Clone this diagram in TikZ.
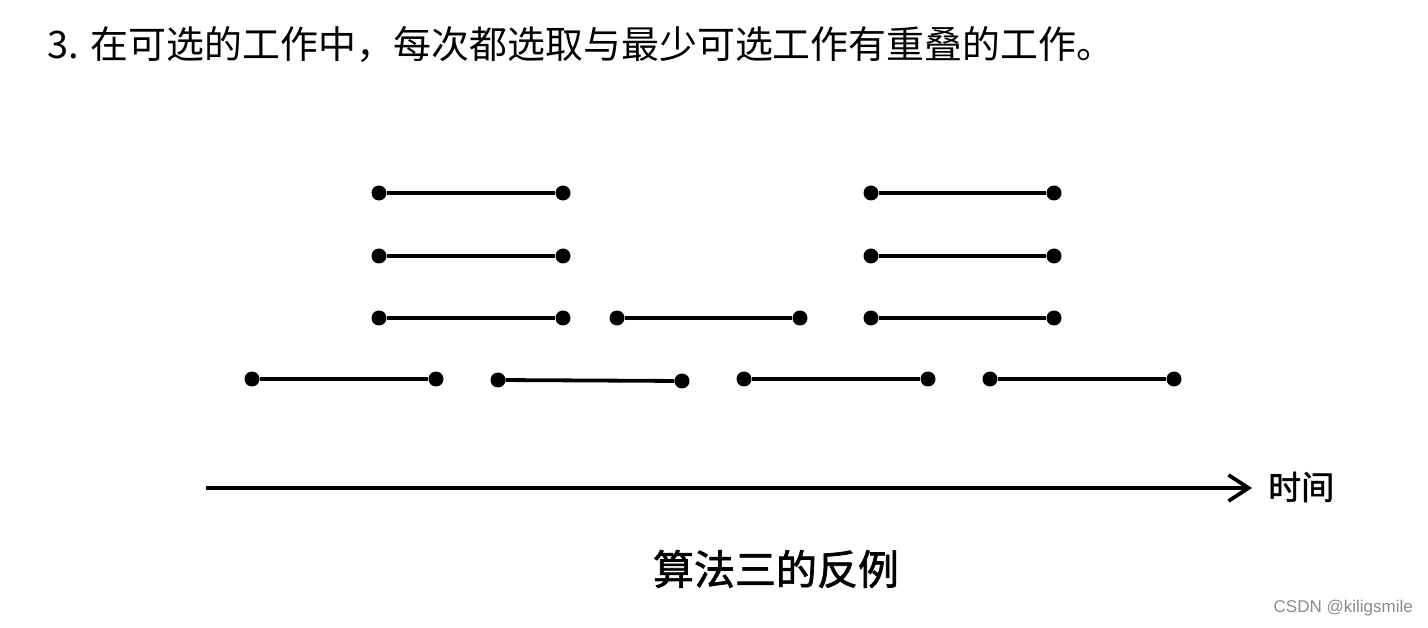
\documentclass[tikz,border=0pt]{standalone}
\usepackage{fontspec}
\setmainfont{Noto Sans CJK SC}
\newfontfamily\medfont[FakeBold=1.6]{Noto Sans CJK SC}
\newfontfamily\wmfont{Liberation Sans}
\usetikzlibrary{arrows.meta}
\tikzset{
  dot/.style={circle,fill=black,inner sep=0pt,minimum size=15pt},
  seg/.style={line width=3.8pt,black},
  axis/.style={line width=3.8pt,black,-{Straight Barb[length=20pt,width=26pt,line width=3.8pt]}},
}
\begin{document}
\begin{tikzpicture}[x=1pt,y=-1pt]
\useasboundingbox[fill=white] (0,0) rectangle (1428,628);
\node[anchor=west,inner sep=0pt,font=\fontsize{37.9}{40}\selectfont] (title) at (47,44) {3.\hspace{12pt}在可选的工作中，每次都选取与最少可选工作有重叠的工作。};
\foreach \xa/\ya/\xb/\yb [count=\i] in {
  379/193/563/193, 871/193/1054/193,
  379/256/563/256, 871/256/1054/256,
  379/318/563/318, 617/318/800/318, 871/318/1054/318,
  252/379/436/379, 498/380/682/381, 744/379/928/379, 990/379/1174/379}{
  \node[dot] (a\i) at (\xa,\ya) {};
  \node[dot] (b\i) at (\xb,\yb) {};
  \draw[seg] (a\i) -- (b\i);
}
\coordinate (ts) at (206,488);
\coordinate (te) at (1252,488);
\draw[axis] (ts) -- (te);
\node[anchor=west,font=\medfont\fontsize{33}{34}\selectfont,inner sep=0pt] (time) at (1268,487) {时间};
\node[font=\medfont\fontsize{41}{44}\selectfont,inner sep=0pt] (cap) at (776,569) {算法三的反例};
\node[anchor=east,font=\wmfont\fontsize{17}{19}\selectfont,text=black!45,inner sep=0pt] (wm) at (1413,608) {CSDN @kiligsmile};
\end{tikzpicture}
\end{document}
